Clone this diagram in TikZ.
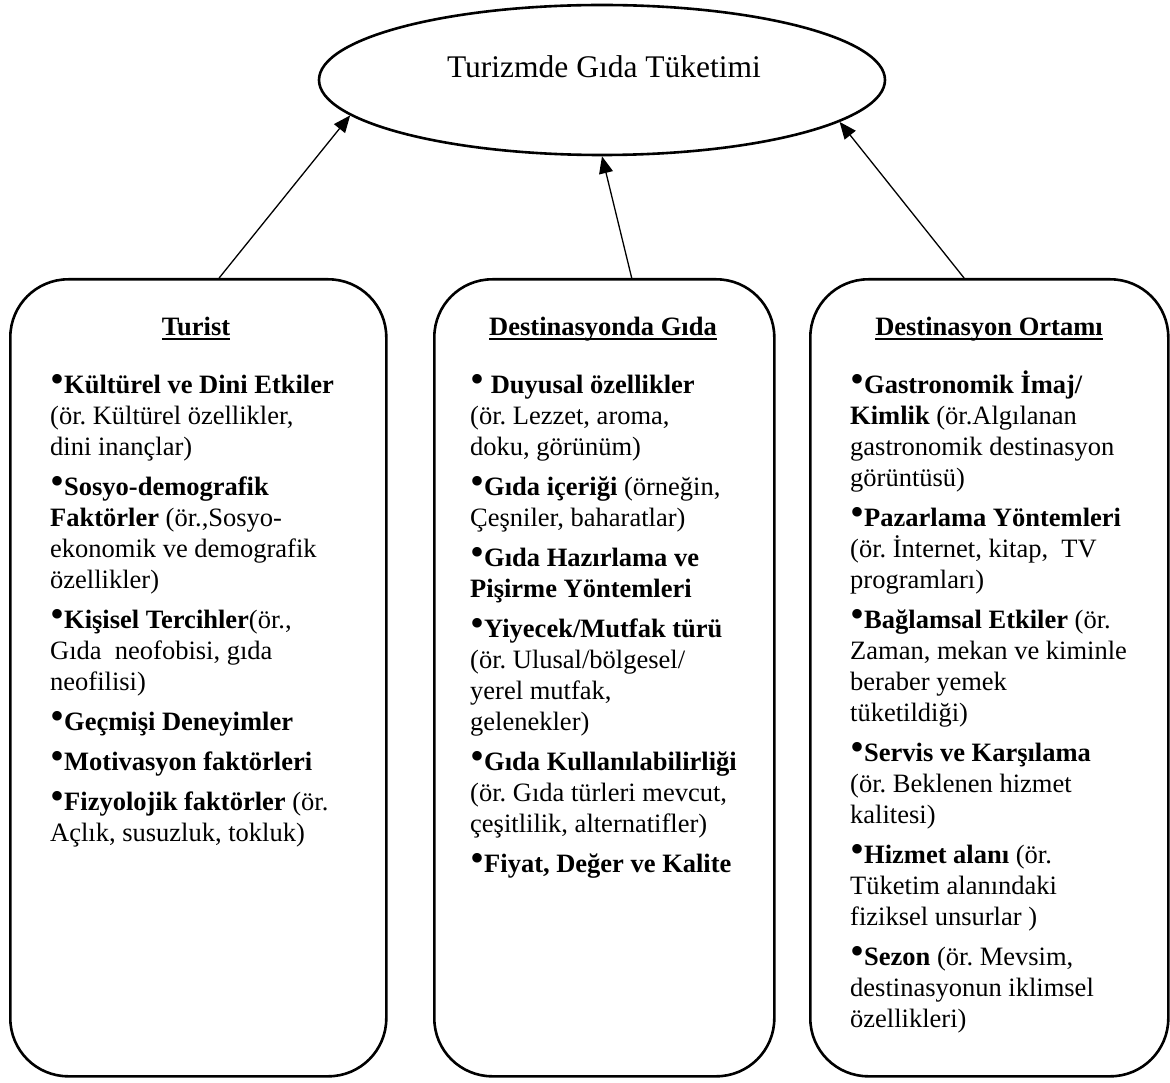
\documentclass[tikz,border=0pt]{standalone}
\usepackage{fontspec}
\setmainfont{Liberation Serif}
\usetikzlibrary{shapes.geometric,arrows.meta,calc}
\frenchspacing

\newcommand{\bul}{{\fontsize{40}{40}\selectfont\raisebox{1pt}{•}}}
\newcommand{\hdul}[1]{\setbox0=\hbox{#1}\rlap{\rule[-4.5pt]{\wd0}{1.8pt}}\box0}

\begin{document}
\begin{tikzpicture}[x=1pt,y=-1pt,
    box/.style={draw,line width=2.6pt,rounded corners=58pt,anchor=north west,inner sep=0pt,minimum height=797pt},
    body/.style={anchor=base west,align=left,inner sep=0pt,font=\fontsize{26.5}{31}\selectfont},
    head/.style={anchor=base,inner sep=0pt,font=\fontsize{26.5}{31}\selectfont\bfseries},
    arr/.style={-{Triangle[length=17pt,width=14pt]},line width=1.3pt}]
\useasboundingbox (0,0) rectangle (1170,1083);
\node[ellipse,draw,line width=2.6pt,minimum width=566pt,minimum height=150pt] (goal) at (602,80) {};
\node[anchor=base,inner sep=0pt,font=\fontsize{31.5}{36}\selectfont] (goaltext) at (604,78) {Turizmde Gıda Tüketimi};

\node[box,minimum width=376pt] (turist) at (9,278) {};
\node[box,minimum width=340pt] (gida) at (433,278) {};
\node[box,minimum width=358pt] (ortam) at (809,278) {};

\node[head] (turisthead) at (196,335) {\hdul{Turist}};
\node[head] (gidahead) at (603,335) {\hdul{Destinasyonda Gıda}};
\node[head] (ortamhead) at (989,335) {\hdul{Destinasyon Ortamı}};

% base of the last line (first line at y=393)
\node[body] (turistbody) at (50,841) {%
\bul\textbf{Kültürel ve Dini Etkiler}\\
(ör. Kültürel özellikler,\\
dini inançlar)\\[9pt]
\bul\textbf{Sosyo-demografik}\\
\textbf{Faktörler} (ör.,Sosyo-\\
ekonomik ve demografik\\
özellikler)\\[9pt]
\bul\textbf{Kişisel Tercihler}(ör.,\\
Gıda\ \ neofobisi, gıda\\
neofilisi)\\[9pt]
\bul\textbf{Geçmişi Deneyimler}\\[9pt]
\bul\textbf{Motivasyon faktörleri}\\[9pt]
\bul\textbf{Fizyolojik faktörler} (ör.\\
Açlık, susuzluk, tokluk)};

\node[body] (gidabody) at (470,872) {%
\bul\ \textbf{Duyusal özellikler}\\
(ör. Lezzet, aroma,\\
doku, görünüm)\\[9pt]
\bul\textbf{Gıda içeriği} (örneğin,\\
Çeşniler, baharatlar)\\[9pt]
\bul\textbf{Gıda Hazırlama ve}\\
\textbf{Pişirme Yöntemleri}\\[9pt]
\bul\textbf{Yiyecek/Mutfak türü}\\
(ör. Ulusal/bölgesel/\\
yerel mutfak,\\
gelenekler)\\[9pt]
\bul\textbf{Gıda Kullanılabilirliği}\\
(ör. Gıda türleri mevcut,\\
çeşitlilik, alternatifler)\\[9pt]
\bul\textbf{Fiyat, Değer ve Kalite}};

\node[body] (ortambody) at (850,1027) {%
\bul\textbf{Gastronomik İmaj/}\\
\textbf{Kimlik} (ör.Algılanan\\
gastronomik destinasyon\\
görüntüsü)\\[9pt]
\bul\textbf{Pazarlama Yöntemleri}\\
(ör. İnternet, kitap,\ \ TV\\
programları)\\[9pt]
\bul\textbf{Bağlamsal Etkiler} (ör.\\
Zaman, mekan ve kiminle\\
beraber yemek\\
tüketildiği)\\[9pt]
\bul\textbf{Servis ve Karşılama}\\
(ör. Beklenen hizmet\\
kalitesi)\\[9pt]
\bul\textbf{Hizmet alanı} (ör.\\
Tüketim alanındaki\\
fiziksel unsurlar )\\[9pt]
\bul\textbf{Sezon} (ör. Mevsim,\\
destinasyonun iklimsel\\
özellikleri)};

\draw[arr] ($(turist.north west)!0.555!(turist.north east)$) -- (goal.188);
\draw[arr] ($(gida.north west)!0.58!(gida.north east)$) -- (goal.270);
\draw[arr] ($(ortam.north west)!0.43!(ortam.north east)$) -- (goal.350);
\end{tikzpicture}
\end{document}
